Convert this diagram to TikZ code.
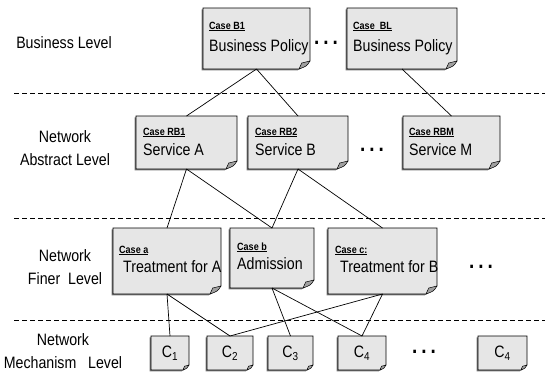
\documentclass[tikz,border=0pt]{standalone}
\usepackage{fontspec}
\setmainfont[FakeStretch=0.86]{Liberation Sans}
\usetikzlibrary{calc,backgrounds}

\definecolor{notefill}{HTML}{E6E6E6}
\definecolor{notefold}{HTML}{A0A0A0}
\definecolor{noteshade}{HTML}{7A7A7A}

\newcommand\mainsize{\fontsize{16.5}{22}\selectfont}
\newcommand\casesize{\fontsize{10.5}{12}\selectfont\bfseries}

% note sheet with a folded bottom-right corner, drawn behind the node
% #1 node name, #2 horizontal cut, #3 vertical cut
\newcommand\drawnote[3]{%
  \begin{pgfonlayer}{background}
    \fill[noteshade]
      ([shift={(-1.4pt,-1.4pt)}]#1.north west) -- ([shift={(-1.4pt,-1.4pt)}]#1.north east)
      -- ([shift={(-1.4pt,#3-1.4pt)}]#1.south east) -- ([shift={(-#2-1.4pt,-1.4pt)}]#1.south east)
      -- ([shift={(-1.4pt,-1.4pt)}]#1.south west) -- cycle;
    \filldraw[fill=notefill, draw=black, line width=0.7pt]
      (#1.north west) -- (#1.north east) -- ([yshift=#3]#1.south east)
      -- ([xshift=-#2]#1.south east) -- (#1.south west) -- cycle;
    \filldraw[fill=notefold, draw=black, line width=0.5pt, line join=round]
      ([yshift=#3]#1.south east) .. controls ([shift={(-0.3*#2,0.35*#3)}]#1.south east)
      .. ([xshift=-#2]#1.south east) -- ([shift={(-0.75*#2,0.75*#3)}]#1.south east) -- cycle;
  \end{pgfonlayer}}

% #1 name, #2 left, #3 top, #4 right, #5 bottom, #6 cut x, #7 cut y, #8 text
\newcommand\notenode[8]{%
  \node[notebox, minimum width={#4pt-#2pt}, minimum height={#5pt-#3pt}]
    (#1) at ({(#2+#4)/2},{(#3+#5)/2}) {#8};
  \drawnote{#1}{#6}{#7}}

\begin{document}
\begin{tikzpicture}[x=1pt, y=-1pt,
  notebox/.style={rectangle, inner sep=0pt, outer sep=0pt, draw=none, font=\mainsize},
  link/.style={line width=0.7pt, black},
  levelsep/.style={dash pattern=on 5pt off 3pt, line width=0.8pt},
  levelname/.style={align=center, inner sep=0pt, font=\fontsize{16.5}{23}\selectfont},
  casetag/.style={anchor=base west, inner sep=0pt, font=\casesize},
  casetext/.style={anchor=base west, inner sep=0pt, font=\mainsize},
  more/.style={inner sep=0pt, font=\fontsize{22}{22}\selectfont\bfseries}
]
\useasboundingbox (0,0) rectangle (545,372);

% level separators
\draw[levelsep] (14,93) -- (545,93);
\draw[levelsep] (14,218) -- (545,218);
\draw[levelsep] (14,320) -- (545,320);

% level names
\node[levelname] (lvbiz) at (64,43) {Business Level};
\node[levelname] (lvabs) at (65,148) {Network\\Abstract Level};
\node[levelname] (lvfin) at (65,267) {Network\\Finer~ Level};
\node[levelname] (lvmec) at (63,351) {Network\\Mechanism~~ Level};

% business level
\notenode{b1}{203}{8}{310}{69}{11pt}{8pt}{}
\notenode{bl}{347}{8}{457}{69}{11pt}{8pt}{}
\node[casetag]  (b1tag) at ($(b1.north west)+(6,21)$) {\underline{Case B1}};
\node[casetext] (b1txt) at ($(b1.north west)+(6,43)$) {Business Policy};
\node[casetag]  (bltag) at ($(bl.north west)+(6,21)$) {\underline{Case~ BL}};
\node[casetext] (bltxt) at ($(bl.north west)+(6,43)$) {Business Policy};
\node[more] (dots1) at (326,43) {.\kern4pt.\kern4pt.};

% network abstract level
\notenode{rb1}{136}{116}{237}{169}{11pt}{8pt}{}
\notenode{rb2}{248}{116}{348}{169}{11pt}{8pt}{}
\notenode{rbm}{403}{116}{500}{169}{11pt}{8pt}{}
\node[casetag]  (rb1tag) at ($(rb1.north west)+(7,19)$) {\underline{Case RB1}};
\node[casetext] (rb1txt) at ($(rb1.north west)+(7,39)$) {Service A};
\node[casetag]  (rb2tag) at ($(rb2.north west)+(7,19)$) {\underline{Case RB2}};
\node[casetext] (rb2txt) at ($(rb2.north west)+(7,39)$) {Service B};
\node[casetag]  (rbmtag) at ($(rbm.north west)+(6,19)$) {\underline{Case RBM}};
\node[casetext] (rbmtxt) at ($(rbm.north west)+(6,39)$) {Service M};
\node[more] (dots2) at (372,150) {.\kern4pt.\kern4pt.};

% network finer level
\notenode{ca}{113}{228}{221}{294}{11pt}{8pt}{}
\notenode{cb}{230}{228}{314}{288}{11pt}{8pt}{}
\notenode{cc}{328}{228}{437}{294}{11pt}{8pt}{}
\node[casetag]  (catag) at ($(ca.north west)+(6,25)$) {\underline{Case a}};
\node[casetext] (catxt) at ($(ca.north west)+(10,44)$) {Treatment for A};
\node[casetag]  (cbtag) at ($(cb.north west)+(7,22)$) {\underline{Case b}};
\node[casetext] (cbtxt) at ($(cb.north west)+(7,41)$) {Admission};
\node[casetag]  (cctag) at ($(cc.north west)+(7,25)$) {\underline{Case c:}};
\node[casetext] (cctxt) at ($(cc.north west)+(12,44)$) {Treatment for B};
\node[more] (dots3) at (481,267) {.\kern4pt.\kern4pt.};

% network mechanism level
\notenode{m1}{151}{336}{189}{370}{6pt}{5pt}{C\textsubscript{1}}
\notenode{m2}{207}{336}{253}{370}{6pt}{5pt}{C\textsubscript{2}}
\notenode{m3}{268}{336}{313}{370}{6pt}{5pt}{C\textsubscript{3}}
\notenode{m4}{338}{336}{386}{370}{6pt}{5pt}{C\textsubscript{4}}
\notenode{m5}{478}{336}{527}{370}{6pt}{5pt}{C\textsubscript{4}}
\node[more] (dots4) at (424,352) {.\kern4pt.\kern4pt.};

% refinement links
\draw[link] (b1.south) -- (rb1.north);
\draw[link] (b1.south) -- (rb2.north);
\draw[link] (bl.south) -- (rbm.north);
\draw[link] (rb1.south) -- (ca.north);
\draw[link] (rb1.south) -- (cb.north);
\draw[link] (rb2.south) -- (cb.north);
\draw[link] (rb2.south) -- (cc.north);
\draw[link] (ca.south) -- (m1.north);
\draw[link] (ca.south) -- (m2.north);
\draw[link] (cb.south) -- (m3.north);
\draw[link] (cb.south) -- (m4.north);
\draw[link] (cc.south) -- (m2.north);
\draw[link] (cc.south) -- (m4.north);
\end{tikzpicture}
\end{document}
